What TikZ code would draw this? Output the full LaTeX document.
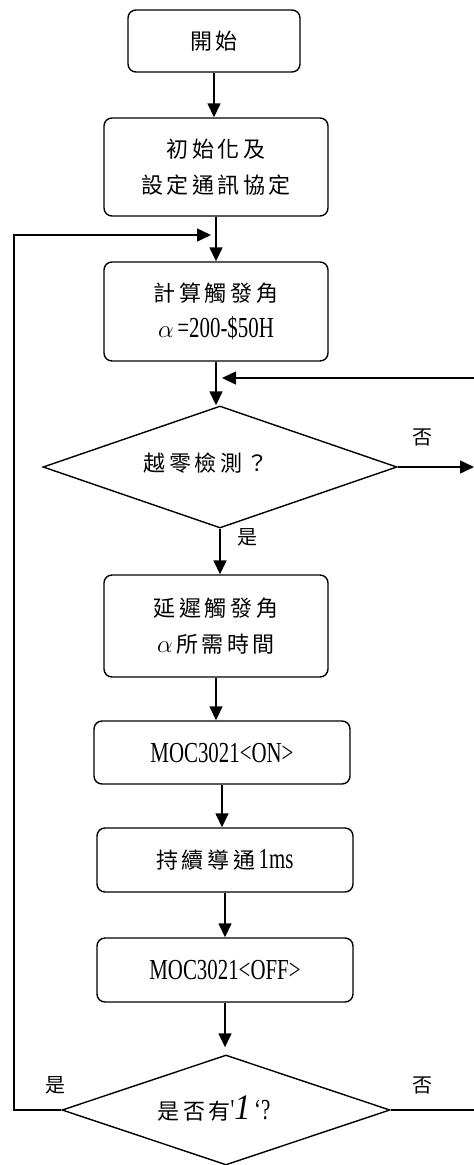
\documentclass[tikz,border=0pt]{standalone}
\usepackage{fontspec}
\newfontfamily\cjk[LetterSpace=16]{Noto Sans CJK TC}
\newfontfamily\lat[FakeStretch=0.72]{Liberation Serif}
\newfontfamily\latit[FakeStretch=0.9]{Liberation Serif}
\usetikzlibrary{shapes.geometric,arrows.meta}
\tikzset{
  box/.style={draw, line width=1.4pt, rounded corners=8pt, align=center, inner sep=0pt},
  dia/.style={draw, diamond, line width=1.4pt, inner sep=0pt},
  conn/.style={line width=1.5pt},
  arr/.style={line width=1.5pt, -{Triangle[length=14pt,width=13pt]}},
  cj/.style={font=\fontsize{22}{36}\cjk},
  lbl/.style={font=\fontsize{20}{24}\cjk, inner sep=0pt}
}
\newcommand{\La}[1]{{\fontsize{29}{36}\lat #1}}
\newcommand{\Alf}{{\fontsize{32}{36}\selectfont$\alpha$}}
\begin{document}
\begin{tikzpicture}[x=1pt,y=-1pt]
\useasboundingbox (0,0) rectangle (474,1165);
\node[box, cj, minimum width=172pt, minimum height=62pt] (start) at (214,41) {開始};
\node[box, cj, minimum width=224pt, minimum height=98pt] (init) at (216,167) {初始化及\\設定通訊協定};
\node[box, cj, minimum width=224pt, minimum height=99pt] (calc) at (216,311.5) {計算觸發角\\\Alf\,\La{=200-\$50H}};
\node[dia, cj, minimum width=354pt, minimum height=122pt] (d1) at (220,467) {};
\node[cj, inner sep=0pt] (d1t) at (206,463) {越零檢測？};
\node[box, cj, minimum width=224pt, minimum height=102pt] (delay) at (216,626) {延遲觸發角\\\Alf\,所需時間};
\node[box, minimum width=256pt, minimum height=63pt] (on) at (222,752.5) {\La{MOC3021<ON>}};
\node[box, cj, minimum width=256pt, minimum height=64pt] (ms) at (225,860) {持續導通\,\La{1ms}};
\node[box, minimum width=256pt, minimum height=64pt] (off) at (225,970) {\La{MOC3021<OFF>}};
\node[dia, minimum width=328pt, minimum height=110pt] (d2) at (226,1110) {};
\node[cj, inner sep=0pt] (d2t) at (214,1109) {是否有\La{'}{\fontsize{36}{36}\latit\itshape 1}\,\La{‘?}};
\node[lbl] (no1) at (422,437) {否};
\node[lbl] (yes1) at (247,537) {是};
\node[lbl] (yes2) at (55,1085) {是};
\node[lbl] (no2) at (422,1085) {否};
% main flow
\draw[arr] (start.south) -- (start.south |- init.north);
\draw[arr] (init.south) -- (init.south |- calc.north);
\draw[arr] (calc.south) -- (calc.south |- d1.north);
\draw[arr] (d1.south) -- (d1.south |- delay.north);
\draw[arr] (delay.south) -- (delay.south |- on.north);
\draw[arr] (on.south) -- (on.south |- ms.north);
\draw[arr] (ms.south) -- (ms.south |- off.north);
\draw[arr] (off.south) -- ([yshift=7pt]off.south |- d2.north);
% loop back on the left
\coordinate (lc1) at (14,1110);
\coordinate (lc2) at (14,235);
\coordinate (lin) at (211,235);
\draw[arr] (d2.west) -- (lc1) -- (lc2) -- (lin);
% right side
\coordinate (re1) at (474,467);
\draw[arr] (d1.east) -- (re1);
\coordinate (re2) at (474,378);
\coordinate (fbin) at (222,378);
\draw[arr] (re2) -- (fbin);
\coordinate (re3) at (474,1110);
\draw[conn] (d2.east) -- (re3);
\end{tikzpicture}
\end{document}
